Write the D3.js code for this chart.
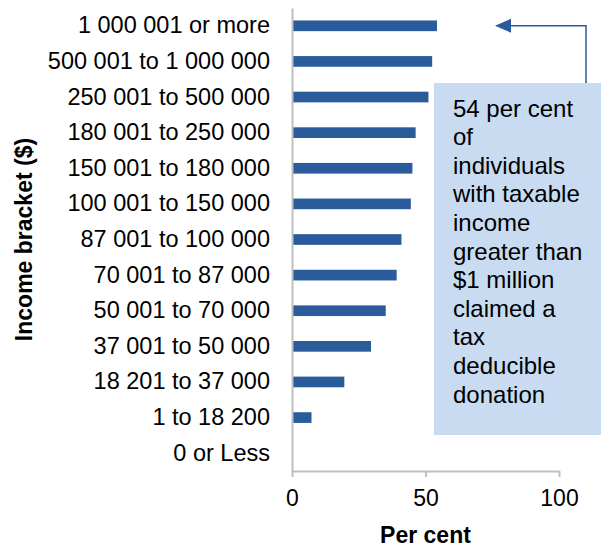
<!DOCTYPE html>
<html>
<head>
<meta charset="utf-8">
<script src="https://cdn.jsdelivr.net/npm/d3@7"></script>
<style>
  body { margin: 0; background: #fff; }
  svg { display: block; font-family: "Liberation Sans", Arial, sans-serif; }
</style>
</head>
<body>
<div id="chart"></div>
<script>
// income brackets, top to bottom
const brackets = [
    "1 000 001 or more", "500 001 to 1 000 000", "250 001 to 500 000",
    "180 001 to 250 000", "150 001 to 180 000", "100 001 to 150 000",
    "87 001 to 100 000", "70 001 to 87 000", "50 001 to 70 000",
    "37 001 to 50 000", "18 201 to 37 000", "1 to 18 200", "0 or Less"
];
// per cent claiming a tax deducible donation
const perCent = [54.3, 52.5, 51.1, 46.3, 45.1, 44.5, 41.0, 39.2, 35.1, 29.6, 19.6, 7.3, 0];
const xTicks = [0, 50, 100];
const noteLines = [
    "54 per cent", "of", "individuals", "with taxable", "income",
    "greater than", "$1 million", "claimed a", "tax", "deducible", "donation"
];

const svgWidth = 601, svgHeight = 549;
const margin = { top: 8, right: 39, bottom: 78, left: 292 };
const width = svgWidth - margin.left - margin.right;
const height = svgHeight - margin.top - margin.bottom;

const svg = d3.select('#chart').append('svg')
    .attr('width', svgWidth).attr('height', svgHeight);
const g = svg.append('g')
    .attr('transform', `translate(${margin.left}, ${margin.top})`);

const x = d3.scaleLinear().domain([0, 100]).range([0, 267]);
const y = d3.scaleBand().domain(brackets).range([0, height]).paddingInner(0.7).paddingOuter(0.35);

// bars
g.selectAll('.bar')
    .data(brackets.map((b, i) => ({ b, v: perCent[i] })))
    .join('rect')
    .attr('class', 'bar')
    .attr('x', 0)
    .attr('y', d => y(d.b))
    .attr('width', d => x(d.v))
    .attr('height', y.bandwidth())
    .attr('fill', '#2a5b9b');

// x axis
const xAxis = g.append('g')
    .attr('transform', `translate(0, ${height})`)
    .call(d3.axisBottom(x).tickValues(xTicks).tickSize(6).tickSizeOuter(0));
xAxis.select('.domain').attr('stroke', '#bfbfbf').attr('stroke-width', 2);
xAxis.selectAll('.tick line').attr('stroke', '#bfbfbf').attr('stroke-width', 2);
xAxis.selectAll('.tick text')
    .attr('y', 35).attr('dy', null)
    .style('font-size', '23px').attr('fill', '#000');

// y axis
const yAxis = g.append('g')
    .call(d3.axisLeft(y).tickSize(0).tickPadding(22));
yAxis.select('.domain').attr('stroke', '#bfbfbf').attr('stroke-width', 2);
yAxis.selectAll('.tick text').style('font-size', '23.5px').attr('fill', '#000');

// axis titles
svg.append('text')
    .attr('x', margin.left + x(50)).attr('y', 543)
    .attr('text-anchor', 'middle')
    .style('font-size', '23px').style('font-weight', 'bold')
    .text('Per cent');
svg.append('text')
    .attr('transform', `translate(32, ${margin.top + height / 2}) rotate(-90)`)
    .attr('text-anchor', 'middle')
    .style('font-size', '23px').style('font-weight', 'bold')
    .text('Income bracket ($)');

// annotation box
const note = svg.append('g');
note.append('rect')
    .attr('x', 434).attr('y', 83)
    .attr('width', 167).attr('height', 352)
    .attr('fill', '#c9dbf0');
note.selectAll('text')
    .data(noteLines)
    .join('text')
    .attr('x', 453)
    .attr('y', (d, i) => 116.5 + i * 28.6)
    .style('font-size', '24px')
    .attr('fill', '#000')
    .text(d => d);

// arrow from box to the top bar
const arrowY = margin.top + y(brackets[0]) + y.bandwidth() / 2;
svg.append('path')
    .attr('d', `M586,83 V${arrowY} H505`)
    .attr('fill', 'none').attr('stroke', '#2a5b9b').attr('stroke-width', 1.5);
svg.append('path')
    .attr('d', `M495,${arrowY} L511,${arrowY - 7} L511,${arrowY + 7} Z`)
    .attr('fill', '#2a5b9b');
</script>
</body>
</html>
